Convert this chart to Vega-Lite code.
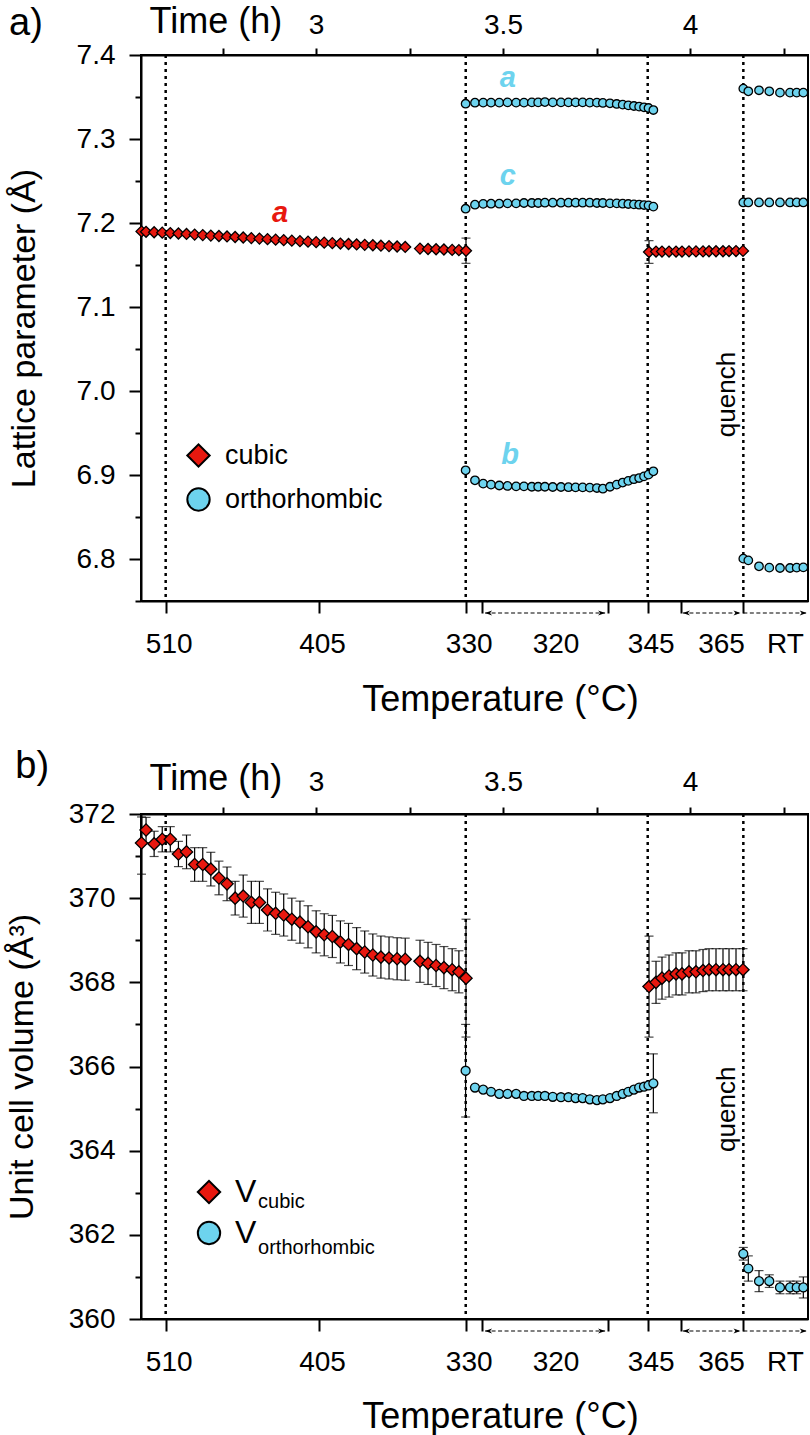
{
"$schema": "https://vega.github.io/schema/vega-lite/v6.json",
"background": "white",
"padding": {"left": 4, "top": 2, "right": 0, "bottom": 0},
"bounds": "flush",
"spacing": 213,
"resolve": {"scale": {"color": "independent", "shape": "independent"}},
"config": {
 "font": "Liberation Sans",
 "view": {"stroke": "black", "strokeWidth": 2},
 "axis": {"domainColor": "black", "domainWidth": 2, "tickColor": "black", "tickWidth": 2, "labelColor": "black", "labelFont": "Liberation Sans", "labelFontSize": 28, "titleFont": "Liberation Sans", "titleFontSize": 35, "titleFontWeight": "normal", "titleColor": "black", "grid": false, "labelOverlap": false, "labelFlush": false},
 "legend": {"labelFont": "Liberation Sans", "labelColor": "black"},
 "title": {"font": "Liberation Sans", "fontSize": 38, "fontWeight": "normal", "color": "black"}
},
"datasets": {
 "vl": [{"t": 2.598}, {"t": 3.4003}, {"t": 3.8869}, {"t": 4.1426}],
 "br": [
  {"p": "a", "t": 3.452, "t2": 3.773, "v": 6.7357}, {"p": "a", "t": 3.981, "t2": 4.135, "v": 6.7357}, {"p": "a", "t": 4.1426, "t2": 4.312, "v": 6.7357},
  {"p": "b", "t": 3.452, "t2": 3.773, "v": 359.715}, {"p": "b", "t": 3.981, "t2": 4.135, "v": 359.715}, {"p": "b", "t": 4.1426, "t2": 4.312, "v": 359.715}
 ],
 "ar": [
  {"p": "a", "t": 3.452, "v": 6.7357, "d": "L"}, {"p": "a", "t": 3.773, "v": 6.7357, "d": "R"}, {"p": "a", "t": 3.981, "v": 6.7357, "d": "L"}, {"p": "a", "t": 4.135, "v": 6.7357, "d": "R"}, {"p": "a", "t": 4.312, "v": 6.7357, "d": "R"},
  {"p": "b", "t": 3.452, "v": 359.715, "d": "L"}, {"p": "b", "t": 3.773, "v": 359.715, "d": "R"}, {"p": "b", "t": 3.981, "v": 359.715, "d": "L"}, {"p": "b", "t": 4.135, "v": 359.715, "d": "R"}, {"p": "b", "t": 4.312, "v": 359.715, "d": "R"}
 ],
 "lbl": [
  {"p": "a", "k": "cub", "txt": "a", "t": 2.904, "v": 7.2012},
  {"p": "a", "k": "ort", "txt": "a", "t": 3.513, "v": 7.3619},
  {"p": "a", "k": "ort", "txt": "c", "t": 3.513, "v": 7.2452},
  {"p": "a", "k": "ort", "txt": "b", "t": 3.519, "v": 6.9131},
  {"p": "a", "k": "qu", "txt": "quench", "t": 4.1203, "v": 6.945},
  {"p": "b", "k": "qu", "txt": "quench", "t": 4.1203, "v": 363.97},
  {"p": "b", "k": "sub", "txt": "cubic", "t": 2.845, "v": 362.641},
  {"p": "b", "k": "sub", "txt": "orthorhombic", "t": 2.845, "v": 361.556}
 ],
 "pts": [
  {"p":"a","ph":"cubic","t":2.5334,"v":7.19},{"p":"a","ph":"cubic","t":2.5455,"v":7.1895},{"p":"a","ph":"cubic","t":2.5671,"v":7.189},{"p":"a","ph":"cubic","t":2.5888,"v":7.1885},{"p":"a","ph":"cubic","t":2.6104,"v":7.188},{"p":"a","ph":"cubic","t":2.6321,"v":7.1875},{"p":"a","ph":"cubic","t":2.6537,"v":7.187},{"p":"a","ph":"cubic","t":2.6754,"v":7.1862},{"p":"a","ph":"cubic","t":2.6971,"v":7.1856},{"p":"a","ph":"cubic","t":2.7187,"v":7.185},{"p":"a","ph":"cubic","t":2.7404,"v":7.1845},{"p":"a","ph":"cubic","t":2.762,"v":7.184},{"p":"a","ph":"cubic","t":2.7837,"v":7.1833},{"p":"a","ph":"cubic","t":2.8053,"v":7.1827},{"p":"a","ph":"cubic","t":2.827,"v":7.182},{"p":"a","ph":"cubic","t":2.8487,"v":7.1814},{"p":"a","ph":"cubic","t":2.8703,"v":7.1808},{"p":"a","ph":"cubic","t":2.892,"v":7.1802},{"p":"a","ph":"cubic","t":2.9136,"v":7.1796},{"p":"a","ph":"cubic","t":2.9353,"v":7.179},{"p":"a","ph":"cubic","t":2.957,"v":7.1784},{"p":"a","ph":"cubic","t":2.9786,"v":7.1778},{"p":"a","ph":"cubic","t":3.0003,"v":7.1772},{"p":"a","ph":"cubic","t":3.0219,"v":7.1766},{"p":"a","ph":"cubic","t":3.0436,"v":7.176},{"p":"a","ph":"cubic","t":3.0652,"v":7.1755},{"p":"a","ph":"cubic","t":3.0869,"v":7.175},{"p":"a","ph":"cubic","t":3.1086,"v":7.1745},{"p":"a","ph":"cubic","t":3.1302,"v":7.174},{"p":"a","ph":"cubic","t":3.1519,"v":7.1735},{"p":"a","ph":"cubic","t":3.1735,"v":7.173},{"p":"a","ph":"cubic","t":3.1952,"v":7.1725},{"p":"a","ph":"cubic","t":3.2168,"v":7.172},{"p":"a","ph":"cubic","t":3.2385,"v":7.1715},
  {"p":"a","ph":"cubic","t":3.278,"v":7.1695},{"p":"a","ph":"cubic","t":3.2995,"v":7.169},{"p":"a","ph":"cubic","t":3.321,"v":7.1687},{"p":"a","ph":"cubic","t":3.342,"v":7.1684},{"p":"a","ph":"cubic","t":3.364,"v":7.168},{"p":"a","ph":"cubic","t":3.382,"v":7.1677},{"p":"a","ph":"cubic","t":3.401,"v":7.167,"lo":7.152,"hi":7.182},
  {"p":"a","ph":"cubic","t":3.8904,"v":7.1655,"lo":7.152,"hi":7.179},{"p":"a","ph":"cubic","t":3.9091,"v":7.166},{"p":"a","ph":"cubic","t":3.9251,"v":7.166},{"p":"a","ph":"cubic","t":3.9439,"v":7.166},{"p":"a","ph":"cubic","t":3.9626,"v":7.166},{"p":"a","ph":"cubic","t":3.9786,"v":7.166},{"p":"a","ph":"cubic","t":3.9973,"v":7.1662},{"p":"a","ph":"cubic","t":4.016,"v":7.1662},{"p":"a","ph":"cubic","t":4.0348,"v":7.1662},{"p":"a","ph":"cubic","t":4.0508,"v":7.1664},{"p":"a","ph":"cubic","t":4.0695,"v":7.1664},{"p":"a","ph":"cubic","t":4.0882,"v":7.1664},{"p":"a","ph":"cubic","t":4.1043,"v":7.1666},{"p":"a","ph":"cubic","t":4.123,"v":7.1666},{"p":"a","ph":"cubic","t":4.1417,"v":7.1668},
  {"p":"a","ph":"orthorhombic","q":"a","t":3.4,"v":7.342},{"p":"a","ph":"orthorhombic","q":"a","t":3.425,"v":7.3432},{"p":"a","ph":"orthorhombic","q":"a","t":3.447,"v":7.3433},{"p":"a","ph":"orthorhombic","q":"a","t":3.468,"v":7.3433},{"p":"a","ph":"orthorhombic","q":"a","t":3.49,"v":7.3433},{"p":"a","ph":"orthorhombic","q":"a","t":3.512,"v":7.3436},{"p":"a","ph":"orthorhombic","q":"a","t":3.535,"v":7.3433},{"p":"a","ph":"orthorhombic","q":"a","t":3.556,"v":7.3433},{"p":"a","ph":"orthorhombic","q":"a","t":3.577,"v":7.3436},{"p":"a","ph":"orthorhombic","q":"a","t":3.594,"v":7.3436},{"p":"a","ph":"orthorhombic","q":"a","t":3.612,"v":7.344},{"p":"a","ph":"orthorhombic","q":"a","t":3.633,"v":7.3436},{"p":"a","ph":"orthorhombic","q":"a","t":3.655,"v":7.3436},{"p":"a","ph":"orthorhombic","q":"a","t":3.675,"v":7.3436},{"p":"a","ph":"orthorhombic","q":"a","t":3.694,"v":7.3436},{"p":"a","ph":"orthorhombic","q":"a","t":3.713,"v":7.3436},{"p":"a","ph":"orthorhombic","q":"a","t":3.732,"v":7.3433},{"p":"a","ph":"orthorhombic","q":"a","t":3.751,"v":7.3433},{"p":"a","ph":"orthorhombic","q":"a","t":3.767,"v":7.3429},{"p":"a","ph":"orthorhombic","q":"a","t":3.786,"v":7.3425},{"p":"a","ph":"orthorhombic","q":"a","t":3.804,"v":7.3417},{"p":"a","ph":"orthorhombic","q":"a","t":3.82,"v":7.3409},{"p":"a","ph":"orthorhombic","q":"a","t":3.835,"v":7.34},{"p":"a","ph":"orthorhombic","q":"a","t":3.85,"v":7.3393},{"p":"a","ph":"orthorhombic","q":"a","t":3.864,"v":7.3385},{"p":"a","ph":"orthorhombic","q":"a","t":3.877,"v":7.3377},{"p":"a","ph":"orthorhombic","q":"a","t":3.889,"v":7.3369},{"p":"a","ph":"orthorhombic","q":"a","t":3.902,"v":7.3345},
  {"p":"a","ph":"orthorhombic","q":"c","t":3.4,"v":7.217},{"p":"a","ph":"orthorhombic","q":"c","t":3.425,"v":7.2218},{"p":"a","ph":"orthorhombic","q":"c","t":3.447,"v":7.2228},{"p":"a","ph":"orthorhombic","q":"c","t":3.468,"v":7.223},{"p":"a","ph":"orthorhombic","q":"c","t":3.49,"v":7.223},{"p":"a","ph":"orthorhombic","q":"c","t":3.512,"v":7.2234},{"p":"a","ph":"orthorhombic","q":"c","t":3.535,"v":7.2234},{"p":"a","ph":"orthorhombic","q":"c","t":3.556,"v":7.2238},{"p":"a","ph":"orthorhombic","q":"c","t":3.577,"v":7.2238},{"p":"a","ph":"orthorhombic","q":"c","t":3.594,"v":7.2238},{"p":"a","ph":"orthorhombic","q":"c","t":3.612,"v":7.2242},{"p":"a","ph":"orthorhombic","q":"c","t":3.633,"v":7.2242},{"p":"a","ph":"orthorhombic","q":"c","t":3.655,"v":7.2242},{"p":"a","ph":"orthorhombic","q":"c","t":3.675,"v":7.2242},{"p":"a","ph":"orthorhombic","q":"c","t":3.694,"v":7.2242},{"p":"a","ph":"orthorhombic","q":"c","t":3.713,"v":7.2242},{"p":"a","ph":"orthorhombic","q":"c","t":3.732,"v":7.2242},{"p":"a","ph":"orthorhombic","q":"c","t":3.751,"v":7.2238},{"p":"a","ph":"orthorhombic","q":"c","t":3.767,"v":7.2238},{"p":"a","ph":"orthorhombic","q":"c","t":3.786,"v":7.2234},{"p":"a","ph":"orthorhombic","q":"c","t":3.804,"v":7.2234},{"p":"a","ph":"orthorhombic","q":"c","t":3.82,"v":7.223},{"p":"a","ph":"orthorhombic","q":"c","t":3.835,"v":7.2226},{"p":"a","ph":"orthorhombic","q":"c","t":3.85,"v":7.2222},{"p":"a","ph":"orthorhombic","q":"c","t":3.864,"v":7.2218},{"p":"a","ph":"orthorhombic","q":"c","t":3.877,"v":7.2214},{"p":"a","ph":"orthorhombic","q":"c","t":3.889,"v":7.221},{"p":"a","ph":"orthorhombic","q":"c","t":3.902,"v":7.2195},
  {"p":"a","ph":"orthorhombic","q":"b","t":3.4,"v":6.9056},{"p":"a","ph":"orthorhombic","q":"b","t":3.425,"v":6.8937},{"p":"a","ph":"orthorhombic","q":"b","t":3.447,"v":6.8897},{"p":"a","ph":"orthorhombic","q":"b","t":3.468,"v":6.8885},{"p":"a","ph":"orthorhombic","q":"b","t":3.49,"v":6.8875},{"p":"a","ph":"orthorhombic","q":"b","t":3.512,"v":6.887},{"p":"a","ph":"orthorhombic","q":"b","t":3.535,"v":6.8865},{"p":"a","ph":"orthorhombic","q":"b","t":3.556,"v":6.8865},{"p":"a","ph":"orthorhombic","q":"b","t":3.577,"v":6.886},{"p":"a","ph":"orthorhombic","q":"b","t":3.594,"v":6.886},{"p":"a","ph":"orthorhombic","q":"b","t":3.612,"v":6.886},{"p":"a","ph":"orthorhombic","q":"b","t":3.633,"v":6.8857},{"p":"a","ph":"orthorhombic","q":"b","t":3.655,"v":6.8857},{"p":"a","ph":"orthorhombic","q":"b","t":3.675,"v":6.8855},{"p":"a","ph":"orthorhombic","q":"b","t":3.694,"v":6.8853},{"p":"a","ph":"orthorhombic","q":"b","t":3.713,"v":6.8853},{"p":"a","ph":"orthorhombic","q":"b","t":3.732,"v":6.885},{"p":"a","ph":"orthorhombic","q":"b","t":3.751,"v":6.8845},{"p":"a","ph":"orthorhombic","q":"b","t":3.767,"v":6.8837},{"p":"a","ph":"orthorhombic","q":"b","t":3.786,"v":6.886},{"p":"a","ph":"orthorhombic","q":"b","t":3.804,"v":6.8885},{"p":"a","ph":"orthorhombic","q":"b","t":3.82,"v":6.891},{"p":"a","ph":"orthorhombic","q":"b","t":3.835,"v":6.893},{"p":"a","ph":"orthorhombic","q":"b","t":3.85,"v":6.895},{"p":"a","ph":"orthorhombic","q":"b","t":3.864,"v":6.8964},{"p":"a","ph":"orthorhombic","q":"b","t":3.877,"v":6.8984},{"p":"a","ph":"orthorhombic","q":"b","t":3.889,"v":6.9004},{"p":"a","ph":"orthorhombic","q":"b","t":3.902,"v":6.9044},
  {"p":"a","ph":"orthorhombic","q":"a","t":4.1425,"v":7.36},{"p":"a","ph":"orthorhombic","q":"a","t":4.1559,"v":7.3568},{"p":"a","ph":"orthorhombic","q":"a","t":4.1845,"v":7.358},{"p":"a","ph":"orthorhombic","q":"a","t":4.212,"v":7.3568},{"p":"a","ph":"orthorhombic","q":"a","t":4.2406,"v":7.3552},{"p":"a","ph":"orthorhombic","q":"a","t":4.2674,"v":7.3552},{"p":"a","ph":"orthorhombic","q":"a","t":4.2853,"v":7.3552},{"p":"a","ph":"orthorhombic","q":"a","t":4.303,"v":7.3552},
  {"p":"a","ph":"orthorhombic","q":"c","t":4.1425,"v":7.2245},{"p":"a","ph":"orthorhombic","q":"c","t":4.1559,"v":7.2245},{"p":"a","ph":"orthorhombic","q":"c","t":4.1845,"v":7.2245},{"p":"a","ph":"orthorhombic","q":"c","t":4.212,"v":7.2245},{"p":"a","ph":"orthorhombic","q":"c","t":4.2406,"v":7.2245},{"p":"a","ph":"orthorhombic","q":"c","t":4.2674,"v":7.2245},{"p":"a","ph":"orthorhombic","q":"c","t":4.2853,"v":7.2245},{"p":"a","ph":"orthorhombic","q":"c","t":4.303,"v":7.2245},
  {"p":"a","ph":"orthorhombic","q":"b","t":4.1425,"v":6.8004},{"p":"a","ph":"orthorhombic","q":"b","t":4.1559,"v":6.7984},{"p":"a","ph":"orthorhombic","q":"b","t":4.1845,"v":6.7913},{"p":"a","ph":"orthorhombic","q":"b","t":4.212,"v":6.7897},{"p":"a","ph":"orthorhombic","q":"b","t":4.2406,"v":6.7893},{"p":"a","ph":"orthorhombic","q":"b","t":4.2674,"v":6.7893},{"p":"a","ph":"orthorhombic","q":"b","t":4.2853,"v":6.7897},{"p":"a","ph":"orthorhombic","q":"b","t":4.303,"v":6.79},
  {"p":"b","ph":"cubic","t":2.5334,"v":371.31,"lo":370.57,"hi":371.93},{"p":"b","ph":"cubic","t":2.5455,"v":371.62,"lo":371.32,"hi":371.92},{"p":"b","ph":"cubic","t":2.5671,"v":371.29,"lo":370.99,"hi":371.59},{"p":"b","ph":"cubic","t":2.5888,"v":371.4,"lo":371.1,"hi":371.7},{"p":"b","ph":"cubic","t":2.6104,"v":371.4,"lo":371.1,"hi":371.7},{"p":"b","ph":"cubic","t":2.6321,"v":371.05,"lo":370.75,"hi":371.35},{"p":"b","ph":"cubic","t":2.6537,"v":371.1,"lo":370.7,"hi":371.5},{"p":"b","ph":"cubic","t":2.6754,"v":370.8,"lo":370.4,"hi":371.2},{"p":"b","ph":"cubic","t":2.6971,"v":370.8,"lo":370.4,"hi":371.2},{"p":"b","ph":"cubic","t":2.7187,"v":370.69,"lo":370.29,"hi":371.09},{"p":"b","ph":"cubic","t":2.7404,"v":370.48,"lo":370.08,"hi":370.88},{"p":"b","ph":"cubic","t":2.762,"v":370.34,"lo":369.94,"hi":370.74},{"p":"b","ph":"cubic","t":2.7837,"v":370.0,"lo":369.6,"hi":370.4},{"p":"b","ph":"cubic","t":2.8053,"v":370.05,"lo":369.55,"hi":370.55},{"p":"b","ph":"cubic","t":2.827,"v":369.9,"lo":369.4,"hi":370.4},{"p":"b","ph":"cubic","t":2.8487,"v":369.9,"lo":369.4,"hi":370.4},{"p":"b","ph":"cubic","t":2.8703,"v":369.72,"lo":369.22,"hi":370.22},{"p":"b","ph":"cubic","t":2.892,"v":369.64,"lo":369.14,"hi":370.14},{"p":"b","ph":"cubic","t":2.9136,"v":369.6,"lo":369.1,"hi":370.1},{"p":"b","ph":"cubic","t":2.9353,"v":369.5,"lo":369.0,"hi":370.0},{"p":"b","ph":"cubic","t":2.957,"v":369.43,"lo":368.93,"hi":369.93},{"p":"b","ph":"cubic","t":2.9786,"v":369.32,"lo":368.82,"hi":369.82},{"p":"b","ph":"cubic","t":3.0003,"v":369.2,"lo":368.7,"hi":369.7},{"p":"b","ph":"cubic","t":3.0219,"v":369.13,"lo":368.63,"hi":369.63},{"p":"b","ph":"cubic","t":3.0436,"v":369.09,"lo":368.59,"hi":369.59},{"p":"b","ph":"cubic","t":3.0652,"v":368.96,"lo":368.46,"hi":369.46},{"p":"b","ph":"cubic","t":3.0869,"v":368.9,"lo":368.4,"hi":369.4},{"p":"b","ph":"cubic","t":3.1086,"v":368.8,"lo":368.3,"hi":369.3},{"p":"b","ph":"cubic","t":3.1302,"v":368.72,"lo":368.22,"hi":369.22},{"p":"b","ph":"cubic","t":3.1519,"v":368.65,"lo":368.15,"hi":369.15},{"p":"b","ph":"cubic","t":3.1735,"v":368.6,"lo":368.1,"hi":369.1},{"p":"b","ph":"cubic","t":3.1952,"v":368.58,"lo":368.08,"hi":369.08},{"p":"b","ph":"cubic","t":3.2168,"v":368.56,"lo":368.06,"hi":369.06},{"p":"b","ph":"cubic","t":3.2385,"v":368.55,"lo":368.05,"hi":369.05},
  {"p":"b","ph":"cubic","t":3.278,"v":368.5,"lo":368.0,"hi":369.0},{"p":"b","ph":"cubic","t":3.2995,"v":368.45,"lo":367.95,"hi":368.95},{"p":"b","ph":"cubic","t":3.321,"v":368.4,"lo":367.9,"hi":368.9},{"p":"b","ph":"cubic","t":3.342,"v":368.35,"lo":367.85,"hi":368.85},{"p":"b","ph":"cubic","t":3.364,"v":368.3,"lo":367.8,"hi":368.8},{"p":"b","ph":"cubic","t":3.382,"v":368.25,"lo":367.75,"hi":368.75},{"p":"b","ph":"cubic","t":3.401,"v":368.1,"lo":366.7,"hi":369.5},
  {"p":"b","ph":"cubic","t":3.8904,"v":367.9,"lo":366.7,"hi":369.1},{"p":"b","ph":"cubic","t":3.9091,"v":368.0,"lo":367.5,"hi":368.5},{"p":"b","ph":"cubic","t":3.9251,"v":368.1,"lo":367.6,"hi":368.6},{"p":"b","ph":"cubic","t":3.9439,"v":368.15,"lo":367.65,"hi":368.65},{"p":"b","ph":"cubic","t":3.9626,"v":368.2,"lo":367.7,"hi":368.7},{"p":"b","ph":"cubic","t":3.9786,"v":368.2,"lo":367.7,"hi":368.7},{"p":"b","ph":"cubic","t":3.9973,"v":368.25,"lo":367.75,"hi":368.75},{"p":"b","ph":"cubic","t":4.016,"v":368.25,"lo":367.75,"hi":368.75},{"p":"b","ph":"cubic","t":4.0348,"v":368.28,"lo":367.78,"hi":368.78},{"p":"b","ph":"cubic","t":4.0508,"v":368.3,"lo":367.8,"hi":368.8},{"p":"b","ph":"cubic","t":4.0695,"v":368.3,"lo":367.8,"hi":368.8},{"p":"b","ph":"cubic","t":4.0882,"v":368.3,"lo":367.8,"hi":368.8},{"p":"b","ph":"cubic","t":4.1043,"v":368.3,"lo":367.8,"hi":368.8},{"p":"b","ph":"cubic","t":4.123,"v":368.3,"lo":367.8,"hi":368.8},{"p":"b","ph":"cubic","t":4.1417,"v":368.3,"lo":367.8,"hi":368.8},
  {"p":"b","ph":"orthorhombic","t":3.4,"v":365.9,"lo":364.8,"hi":367.0},{"p":"b","ph":"orthorhombic","t":3.425,"v":365.5},{"p":"b","ph":"orthorhombic","t":3.447,"v":365.45},{"p":"b","ph":"orthorhombic","t":3.468,"v":365.4},{"p":"b","ph":"orthorhombic","t":3.49,"v":365.35},{"p":"b","ph":"orthorhombic","t":3.512,"v":365.35},{"p":"b","ph":"orthorhombic","t":3.535,"v":365.35},{"p":"b","ph":"orthorhombic","t":3.556,"v":365.3},{"p":"b","ph":"orthorhombic","t":3.577,"v":365.3},{"p":"b","ph":"orthorhombic","t":3.594,"v":365.3},{"p":"b","ph":"orthorhombic","t":3.612,"v":365.3},{"p":"b","ph":"orthorhombic","t":3.633,"v":365.28},{"p":"b","ph":"orthorhombic","t":3.655,"v":365.27},{"p":"b","ph":"orthorhombic","t":3.675,"v":365.27},{"p":"b","ph":"orthorhombic","t":3.694,"v":365.25},{"p":"b","ph":"orthorhombic","t":3.713,"v":365.25},{"p":"b","ph":"orthorhombic","t":3.732,"v":365.22},{"p":"b","ph":"orthorhombic","t":3.751,"v":365.2},{"p":"b","ph":"orthorhombic","t":3.767,"v":365.22},{"p":"b","ph":"orthorhombic","t":3.786,"v":365.25},{"p":"b","ph":"orthorhombic","t":3.804,"v":365.3},{"p":"b","ph":"orthorhombic","t":3.82,"v":365.35},{"p":"b","ph":"orthorhombic","t":3.835,"v":365.4},{"p":"b","ph":"orthorhombic","t":3.85,"v":365.45},{"p":"b","ph":"orthorhombic","t":3.864,"v":365.5},{"p":"b","ph":"orthorhombic","t":3.877,"v":365.52},{"p":"b","ph":"orthorhombic","t":3.889,"v":365.55},{"p":"b","ph":"orthorhombic","t":3.902,"v":365.6,"lo":364.9,"hi":366.3},
  {"p":"b","ph":"orthorhombic","t":4.1425,"v":361.55,"lo":361.4,"hi":361.7},{"p":"b","ph":"orthorhombic","t":4.1559,"v":361.2,"lo":360.9,"hi":361.5},{"p":"b","ph":"orthorhombic","t":4.1845,"v":360.9,"lo":360.65,"hi":361.15},{"p":"b","ph":"orthorhombic","t":4.212,"v":360.9,"lo":360.75,"hi":361.05},{"p":"b","ph":"orthorhombic","t":4.2406,"v":360.75,"lo":360.6,"hi":360.9},{"p":"b","ph":"orthorhombic","t":4.2674,"v":360.75,"lo":360.6,"hi":360.9},{"p":"b","ph":"orthorhombic","t":4.2853,"v":360.75,"lo":360.6,"hi":360.9},{"p":"b","ph":"orthorhombic","t":4.303,"v":360.75,"lo":360.5,"hi":361.0}
 ]
},
"vconcat": [
 {
  "width": 667, "height": 546,
  "title": {"text": "a)", "anchor": "start", "frame": "bounds", "offset": 0, "dy": 40, "dx": 2},
  "resolve": {"axis": {"x": "independent"}},
  "layer": [
   {"data": {"name": "vl"}, "mark": {"type": "rule", "strokeDash": [3, 4], "strokeWidth": 2.5, "color": "black"},
    "encoding": {"x": {"field": "t", "type": "quantitative", "scale": {"domain": [2.532, 4.3155], "nice": false, "zero": false},
      "axis": {"orient": "top", "title": "Time (h)", "values": [2.75, 3, 3.25, 3.5, 3.75, 4, 4.25], "labelExpr": "datum.value==3?'3':datum.value==3.5?'3.5':datum.value==4?'4':''", "tickSize": 7, "labelPadding": 9, "titleAngle": 0, "titleAlign": "left", "titleBaseline": "alphabetic", "titleX": 8, "titleY": -23, "titleFontSize": 36}}}},
   {"data": {"name": "pts"}, "transform": [{"filter": "datum.p=='a' && isValid(datum.lo)"}],
    "mark": {"type": "errorbar", "ticks": {"size": 9, "thickness": 1.2, "color": "black"}, "rule": {"strokeWidth": 1.2, "color": "black"}},
    "encoding": {"x": {"field": "t", "type": "quantitative", "scale": {"domain": [2.532, 4.3155], "nice": false, "zero": false}, "axis": null},
     "y": {"field": "lo", "type": "quantitative", "title": "Lattice parameter (Å)", "scale": {"domain": [6.75, 7.4], "nice": false, "zero": false}}, "y2": {"field": "hi"}}},
   {"data": {"name": "pts"}, "transform": [{"filter": "datum.p=='a' && datum.ph=='cubic'"}],
    "mark": {"type": "point", "filled": true, "stroke": "black", "strokeWidth": 1.3, "size": 121, "opacity": 1},
    "encoding": {
     "x": {"field": "t", "type": "quantitative", "scale": {"domain": [2.532, 4.3155], "nice": false, "zero": false},
      "axis": {"orient": "bottom", "title": "Temperature (°C)", "values": [2.598, 3.008, 3.4003, 3.4447, 3.6324, 3.7816, 3.8869, 3.9759, 4.0749, 4.1426, 4.246],
       "labelExpr": "datum.value==2.598?'510':datum.value==3.008?'405':datum.value==3.4003?'330':datum.value==3.6324?'320':datum.value==3.8869?'345':datum.value==4.0749?'365':datum.value==4.246?'RT':''",
       "tickSize": 12, "tickOpacity": {"condition": {"test": "datum.value==3.6324||datum.value==4.0749||datum.value==4.246", "value": 0}, "value": 1},
       "labelPadding": 17, "labelOffset": 3, "titleX": 359, "titleY": 109, "titleBaseline": "alphabetic", "titleAlign": "center", "titleFontSize": 36}},
     "y": {"field": "v", "type": "quantitative", "scale": {"domain": [6.75, 7.4], "nice": false, "zero": false},
      "axis": {"title": "Lattice parameter (Å)", "values": [6.75, 6.8, 6.85, 6.9, 6.95, 7, 7.05, 7.1, 7.15, 7.2, 7.25, 7.3, 7.35, 7.4],
       "labelExpr": "abs(datum.value*10-round(datum.value*10))<0.01 ? format(datum.value,'.1f') : ''",
       "tickSize": {"condition": {"test": "abs(datum.value*10-round(datum.value*10))>0.01", "value": 6}, "value": 12},
       "labelPadding": 14, "titlePadding": 35, "titleFontSize": 34}},
     "color": {"field": "ph", "type": "nominal", "scale": {"domain": ["cubic", "orthorhombic"], "range": ["#e8180f", "#6dd3ee"]},
      "legend": {"orient": "none", "legendX": 44, "legendY": 387, "title": null, "symbolSize": 500, "symbolStrokeColor": "black", "symbolStrokeWidth": 2, "labelFontSize": 27, "rowPadding": 13, "labelOffset": 13}},
     "shape": {"field": "ph", "type": "nominal", "scale": {"domain": ["cubic", "orthorhombic"], "range": ["diamond", "circle"]},
      "legend": {"orient": "none", "legendX": 44, "legendY": 387, "title": null, "symbolSize": 500, "symbolStrokeColor": "black", "symbolStrokeWidth": 2, "labelFontSize": 27, "rowPadding": 13, "labelOffset": 13}}
    }},
   {"data": {"name": "pts"}, "transform": [{"filter": "datum.p=='a' && datum.ph=='orthorhombic'"}],
    "mark": {"type": "point", "filled": true, "stroke": "black", "strokeWidth": 1.3, "size": 72, "opacity": 1},
    "encoding": {
     "x": {"field": "t", "type": "quantitative", "scale": {"domain": [2.532, 4.3155], "nice": false, "zero": false}, "axis": null},
     "y": {"field": "v", "type": "quantitative", "scale": {"domain": [6.75, 7.4], "nice": false, "zero": false}},
     "color": {"field": "ph", "type": "nominal", "scale": {"domain": ["cubic", "orthorhombic"], "range": ["#e8180f", "#6dd3ee"]},
      "legend": {"orient": "none", "legendX": 44, "legendY": 387, "title": null, "symbolSize": 500, "symbolStrokeColor": "black", "symbolStrokeWidth": 2, "labelFontSize": 27, "rowPadding": 13, "labelOffset": 13}},
     "shape": {"field": "ph", "type": "nominal", "scale": {"domain": ["cubic", "orthorhombic"], "range": ["diamond", "circle"]},
      "legend": {"orient": "none", "legendX": 44, "legendY": 387, "title": null, "symbolSize": 500, "symbolStrokeColor": "black", "symbolStrokeWidth": 2, "labelFontSize": 27, "rowPadding": 13, "labelOffset": 13}}
    }},
   {"data": {"name": "br"}, "transform": [{"filter": "datum.p=='a'"}],
    "mark": {"type": "rule", "strokeDash": [4, 2.5], "strokeWidth": 1.2, "color": "black"},
    "encoding": {"x": {"field": "t", "type": "quantitative", "scale": {"domain": [2.532, 4.3155], "nice": false, "zero": false}, "axis": null}, "x2": {"field": "t2"},
     "y": {"field": "v", "type": "quantitative", "scale": {"domain": [6.75, 7.4], "nice": false, "zero": false}}}},
   {"data": {"name": "ar"}, "transform": [{"filter": "datum.p=='a' && datum.d=='L'"}],
    "mark": {"type": "point", "filled": true, "color": "black", "size": 100, "strokeWidth": 0, "opacity": 1, "shape": "M0,0L1.4,-0.5L1,0L1.4,0.5Z"},
    "encoding": {"x": {"field": "t", "type": "quantitative", "scale": {"domain": [2.532, 4.3155], "nice": false, "zero": false}, "axis": null},
     "y": {"field": "v", "type": "quantitative", "scale": {"domain": [6.75, 7.4], "nice": false, "zero": false}}}},
   {"data": {"name": "ar"}, "transform": [{"filter": "datum.p=='a' && datum.d=='R'"}],
    "mark": {"type": "point", "filled": true, "color": "black", "size": 100, "strokeWidth": 0, "opacity": 1, "shape": "M0,0L-1.4,-0.5L-1,0L-1.4,0.5Z"},
    "encoding": {"x": {"field": "t", "type": "quantitative", "scale": {"domain": [2.532, 4.3155], "nice": false, "zero": false}, "axis": null},
     "y": {"field": "v", "type": "quantitative", "scale": {"domain": [6.75, 7.4], "nice": false, "zero": false}}}},
   {"data": {"name": "lbl"}, "transform": [{"filter": "datum.p=='a' && datum.k=='cub'"}],
    "mark": {"type": "text", "fontSize": 29, "fontWeight": "bold", "fontStyle": "italic", "color": "#e8180f", "align": "center", "baseline": "alphabetic"},
    "encoding": {"x": {"field": "t", "type": "quantitative", "scale": {"domain": [2.532, 4.3155], "nice": false, "zero": false}, "axis": null},
     "y": {"field": "v", "type": "quantitative", "scale": {"domain": [6.75, 7.4], "nice": false, "zero": false}}, "text": {"field": "txt"}}},
   {"data": {"name": "lbl"}, "transform": [{"filter": "datum.p=='a' && datum.k=='ort'"}],
    "mark": {"type": "text", "fontSize": 29, "fontWeight": "bold", "fontStyle": "italic", "color": "#6dd3ee", "align": "center", "baseline": "alphabetic"},
    "encoding": {"x": {"field": "t", "type": "quantitative", "scale": {"domain": [2.532, 4.3155], "nice": false, "zero": false}, "axis": null},
     "y": {"field": "v", "type": "quantitative", "scale": {"domain": [6.75, 7.4], "nice": false, "zero": false}}, "text": {"field": "txt"}}},
   {"data": {"name": "lbl"}, "transform": [{"filter": "datum.p=='a' && datum.k=='qu'"}],
    "mark": {"type": "text", "fontSize": 26, "color": "black", "angle": 270, "align": "left", "baseline": "alphabetic"},
    "encoding": {"x": {"field": "t", "type": "quantitative", "scale": {"domain": [2.532, 4.3155], "nice": false, "zero": false}, "axis": null},
     "y": {"field": "v", "type": "quantitative", "scale": {"domain": [6.75, 7.4], "nice": false, "zero": false}}, "text": {"field": "txt"}}}
  ]
 },
 {
  "width": 667, "height": 505,
  "title": {"text": "b)", "anchor": "start", "frame": "bounds", "offset": 0, "dy": 26, "dx": 10},
  "resolve": {"axis": {"x": "independent"}},
  "layer": [
   {"data": {"name": "vl"}, "mark": {"type": "rule", "strokeDash": [3, 4], "strokeWidth": 2.5, "color": "black"},
    "encoding": {"x": {"field": "t", "type": "quantitative", "scale": {"domain": [2.532, 4.3155], "nice": false, "zero": false},
      "axis": {"orient": "top", "title": "Time (h)", "values": [2.75, 3, 3.25, 3.5, 3.75, 4, 4.25], "labelExpr": "datum.value==3?'3':datum.value==3.5?'3.5':datum.value==4?'4':''", "tickSize": 7, "labelPadding": 11, "titleAngle": 0, "titleAlign": "left", "titleBaseline": "alphabetic", "titleX": 8, "titleY": -25, "titleFontSize": 36}}}},
   {"data": {"name": "pts"}, "transform": [{"filter": "datum.p=='b' && isValid(datum.lo)"}],
    "mark": {"type": "errorbar", "ticks": {"size": 9, "thickness": 1.2, "color": "black"}, "rule": {"strokeWidth": 1.2, "color": "black"}},
    "encoding": {"x": {"field": "t", "type": "quantitative", "scale": {"domain": [2.532, 4.3155], "nice": false, "zero": false}, "axis": null},
     "y": {"field": "lo", "type": "quantitative", "title": "Unit cell volume (Å³)", "scale": {"domain": [360, 372], "nice": false, "zero": false}}, "y2": {"field": "hi"}}},
   {"data": {"name": "pts"}, "transform": [{"filter": "datum.p=='b' && datum.ph=='cubic'"}],
    "mark": {"type": "point", "filled": true, "stroke": "black", "strokeWidth": 1.3, "size": 150, "opacity": 1},
    "encoding": {
     "x": {"field": "t", "type": "quantitative", "scale": {"domain": [2.532, 4.3155], "nice": false, "zero": false},
      "axis": {"orient": "bottom", "title": "Temperature (°C)", "values": [2.598, 3.008, 3.4003, 3.4447, 3.6324, 3.7816, 3.8869, 3.9759, 4.0749, 4.1426, 4.246],
       "labelExpr": "datum.value==2.598?'510':datum.value==3.008?'405':datum.value==3.4003?'330':datum.value==3.6324?'320':datum.value==3.8869?'345':datum.value==4.0749?'365':datum.value==4.246?'RT':''",
       "tickSize": 12, "tickOpacity": {"condition": {"test": "datum.value==3.6324||datum.value==4.0749||datum.value==4.246", "value": 0}, "value": 1},
       "labelPadding": 17, "labelOffset": 3, "titleX": 359, "titleY": 108, "titleBaseline": "alphabetic", "titleAlign": "center", "titleFontSize": 36}},
     "y": {"field": "v", "type": "quantitative", "title": "Unit cell volume (Å³)", "scale": {"domain": [360, 372], "nice": false, "zero": false},
      "axis": {"title": "Unit cell volume (Å³)", "values": [360, 361, 362, 363, 364, 365, 366, 367, 368, 369, 370, 371, 372],
       "labelExpr": "datum.value%2==0 ? format(datum.value,'d') : ''",
       "tickSize": {"condition": {"test": "datum.value%2!=0", "value": 6}, "value": 12},
       "labelPadding": 14, "titlePadding": 29, "titleFontSize": 34}},
     "color": {"field": "ph", "type": "nominal", "scale": {"domain": ["cubic", "orthorhombic"], "range": ["#e8180f", "#6dd3ee"]},
      "legend": {"orient": "none", "legendX": 52, "legendY": 362, "title": null, "symbolSize": 500, "symbolStrokeColor": "black", "symbolStrokeWidth": 2, "labelFontSize": 32, "rowPadding": 9, "labelOffset": 10, "labelExpr": "'V'"}},
     "shape": {"field": "ph", "type": "nominal", "scale": {"domain": ["cubic", "orthorhombic"], "range": ["diamond", "circle"]},
      "legend": {"orient": "none", "legendX": 52, "legendY": 362, "title": null, "symbolSize": 500, "symbolStrokeColor": "black", "symbolStrokeWidth": 2, "labelFontSize": 32, "rowPadding": 9, "labelOffset": 10, "labelExpr": "'V'"}}
    }},
   {"data": {"name": "pts"}, "transform": [{"filter": "datum.p=='b' && datum.ph=='orthorhombic'"}],
    "mark": {"type": "point", "filled": true, "stroke": "black", "strokeWidth": 1.3, "size": 80, "opacity": 1},
    "encoding": {
     "x": {"field": "t", "type": "quantitative", "scale": {"domain": [2.532, 4.3155], "nice": false, "zero": false}, "axis": null},
     "y": {"field": "v", "type": "quantitative", "scale": {"domain": [360, 372], "nice": false, "zero": false}},
     "color": {"field": "ph", "type": "nominal", "scale": {"domain": ["cubic", "orthorhombic"], "range": ["#e8180f", "#6dd3ee"]},
      "legend": {"orient": "none", "legendX": 52, "legendY": 362, "title": null, "symbolSize": 500, "symbolStrokeColor": "black", "symbolStrokeWidth": 2, "labelFontSize": 32, "rowPadding": 9, "labelOffset": 10, "labelExpr": "'V'"}},
     "shape": {"field": "ph", "type": "nominal", "scale": {"domain": ["cubic", "orthorhombic"], "range": ["diamond", "circle"]},
      "legend": {"orient": "none", "legendX": 52, "legendY": 362, "title": null, "symbolSize": 500, "symbolStrokeColor": "black", "symbolStrokeWidth": 2, "labelFontSize": 32, "rowPadding": 9, "labelOffset": 10, "labelExpr": "'V'"}}
    }},
   {"data": {"name": "br"}, "transform": [{"filter": "datum.p=='b'"}],
    "mark": {"type": "rule", "strokeDash": [4, 2.5], "strokeWidth": 1.2, "color": "black"},
    "encoding": {"x": {"field": "t", "type": "quantitative", "scale": {"domain": [2.532, 4.3155], "nice": false, "zero": false}, "axis": null}, "x2": {"field": "t2"},
     "y": {"field": "v", "type": "quantitative", "scale": {"domain": [360, 372], "nice": false, "zero": false}}}},
   {"data": {"name": "ar"}, "transform": [{"filter": "datum.p=='b' && datum.d=='L'"}],
    "mark": {"type": "point", "filled": true, "color": "black", "size": 100, "strokeWidth": 0, "opacity": 1, "shape": "M0,0L1.4,-0.5L1,0L1.4,0.5Z"},
    "encoding": {"x": {"field": "t", "type": "quantitative", "scale": {"domain": [2.532, 4.3155], "nice": false, "zero": false}, "axis": null},
     "y": {"field": "v", "type": "quantitative", "scale": {"domain": [360, 372], "nice": false, "zero": false}}}},
   {"data": {"name": "ar"}, "transform": [{"filter": "datum.p=='b' && datum.d=='R'"}],
    "mark": {"type": "point", "filled": true, "color": "black", "size": 100, "strokeWidth": 0, "opacity": 1, "shape": "M0,0L-1.4,-0.5L-1,0L-1.4,0.5Z"},
    "encoding": {"x": {"field": "t", "type": "quantitative", "scale": {"domain": [2.532, 4.3155], "nice": false, "zero": false}, "axis": null},
     "y": {"field": "v", "type": "quantitative", "scale": {"domain": [360, 372], "nice": false, "zero": false}}}},
   {"data": {"name": "lbl"}, "transform": [{"filter": "datum.p=='b' && datum.k=='qu'"}],
    "mark": {"type": "text", "fontSize": 26, "color": "black", "angle": 270, "align": "left", "baseline": "alphabetic"},
    "encoding": {"x": {"field": "t", "type": "quantitative", "scale": {"domain": [2.532, 4.3155], "nice": false, "zero": false}, "axis": null},
     "y": {"field": "v", "type": "quantitative", "scale": {"domain": [360, 372], "nice": false, "zero": false}}, "text": {"field": "txt"}}},
   {"data": {"name": "lbl"}, "transform": [{"filter": "datum.p=='b' && datum.k=='sub'"}],
    "mark": {"type": "text", "fontSize": 20, "color": "black", "align": "left", "baseline": "alphabetic"},
    "encoding": {"x": {"field": "t", "type": "quantitative", "scale": {"domain": [2.532, 4.3155], "nice": false, "zero": false}, "axis": null},
     "y": {"field": "v", "type": "quantitative", "scale": {"domain": [360, 372], "nice": false, "zero": false}}, "text": {"field": "txt"}}}
  ]
 }
]
}
